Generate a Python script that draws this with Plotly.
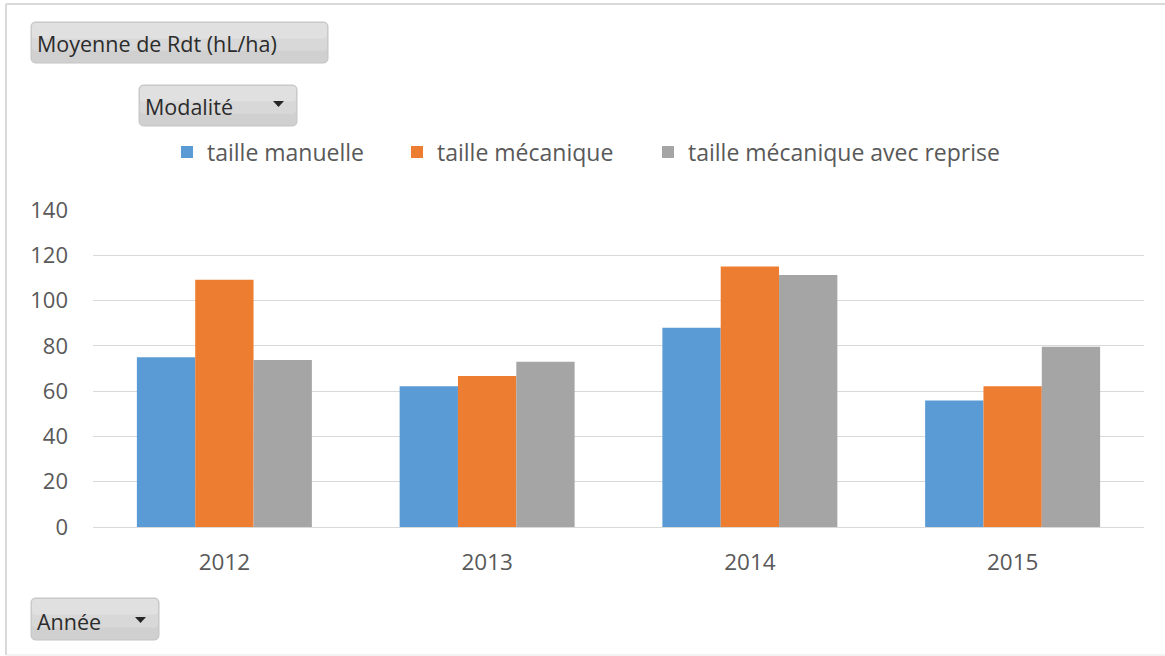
import plotly.graph_objects as go

# ---- data ----
years = ["2012", "2013", "2014", "2015"]
taille_manuelle = [75.0, 62.2, 88.0, 55.9]
taille_mecanique = [109.2, 66.7, 115.0, 62.2]
taille_meca_reprise = [73.8, 73.0, 111.3, 79.6]
series_names = ["taille manuelle", "taille mécanique", "taille mécanique avec reprise"]
y_ticks = [0, 20, 40, 60, 80, 100, 120, 140]

colors = ["#5B9BD5", "#ED7D31", "#A5A5A5"]
FONT = "Open Sans"
W, H = 1165, 656
ML, MR, MT, MB = 93, 21, 210, 129
PW, PH = W - ML - MR, H - MT - MB


def px(x):
    return (x - ML) / PW


def py(y):
    return (H - MB - y) / PH


legend_ids = ["legend", "legend2", "legend3"]
legend_left = [167, 397, 648]

fig = go.Figure()
for name, vals, c, lg in zip(series_names, [taille_manuelle, taille_mecanique, taille_meca_reprise], colors, legend_ids):
    fig.add_trace(go.Bar(x=years, y=vals, name=name, legend=lg, marker=dict(color=c, line=dict(width=0))))


def rounded(x0, y0, x1, y1, r):
    rx = r / PW
    ry = r / PH
    X0, X1 = px(x0), px(x1)
    Yt, Yb = py(y0), py(y1)
    return (f"M {X0+rx},{Yt} L {X1-rx},{Yt} Q {X1},{Yt} {X1},{Yt-ry} "
            f"L {X1},{Yb+ry} Q {X1},{Yb} {X1-rx},{Yb} L {X0+rx},{Yb} "
            f"Q {X0},{Yb} {X0},{Yb+ry} L {X0},{Yt-ry} Q {X0},{Yt} {X0+rx},{Yt} Z")


shapes = []
# outer frame: top, left, bottom (right edge is outside the picture)
frame = dict(type="line", xref="paper", yref="paper", line=dict(color="#d9d9d9", width=2), layer="below")
shapes.append(dict(frame, x0=px(6), x1=px(1165), y0=py(4), y1=py(4)))
shapes.append(dict(frame, x0=px(6), x1=px(6), y0=py(4), y1=py(655)))
shapes.append(dict(frame, x0=px(6), x1=px(1165), y0=py(655), y1=py(655), line=dict(color="#e6e6e6", width=1)))


def button(x0, y0, x1, y1):
    shapes.append(dict(type="path", xref="paper", yref="paper", path=rounded(x0, y0, x1, y1, 5),
                       fillcolor="#d0d0d0", line=dict(color="#c4c4c4", width=1)))
    h = y1 - y0
    shapes.append(dict(type="path", xref="paper", yref="paper", path=rounded(x0 + 1, y0 + 1, x1 - 1, y0 + h * 0.7, 4),
                       fillcolor="#d8d8d8", line=dict(width=0)))
    shapes.append(dict(type="path", xref="paper", yref="paper", path=rounded(x0 + 1, y0 + 1, x1 - 1, y0 + h * 0.4, 4),
                       fillcolor="#e0e0e0", line=dict(width=0)))


def triangle(cx, cy):
    p = f"M {px(cx-5.5)},{py(cy-3)} L {px(cx+5.5)},{py(cy-3)} L {px(cx)},{py(cy+3)} Z"
    shapes.append(dict(type="path", xref="paper", yref="paper", path=p, fillcolor="#262626", line=dict(width=0)))


button(31, 22, 328, 63)
button(139, 85, 297, 126)
triangle(278.5, 104)
button(31, 598, 159, 640)
triangle(140.5, 620)

annotations = [
    dict(text="Moyenne de Rdt (hL/ha)", x=px(35), y=py(44), xref="paper", yref="paper", xanchor="left",
         yanchor="middle", showarrow=False, font=dict(family=FONT, size=21.5, color="#2b2b2b")),
    dict(text="Modalité", x=px(143), y=py(106), xref="paper", yref="paper", xanchor="left",
         yanchor="middle", showarrow=False, font=dict(family=FONT, size=21.5, color="#2b2b2b")),
    dict(text="Année", x=px(35), y=py(621), xref="paper", yref="paper", xanchor="left",
         yanchor="middle", showarrow=False, font=dict(family=FONT, size=21.5, color="#2b2b2b")),
]

legend_common = dict(orientation="h", yanchor="middle", xanchor="left", y=py(152),
                     font=dict(family=FONT, size=23, color="#595959"), bgcolor="rgba(0,0,0,0)",
                     itemclick=False, itemdoubleclick=False)

fig.update_layout(
    width=W, height=H,
    margin=dict(l=ML, r=MR, t=MT, b=MB, autoexpand=False),
    paper_bgcolor="white", plot_bgcolor="white",
    barmode="group", bargap=0.334, bargroupgap=0,
    font=dict(family=FONT, color="#595959", size=22),
    showlegend=True,
    legend=dict(x=px(legend_left[0]), **legend_common),
    legend2=dict(x=px(legend_left[1]), **legend_common),
    legend3=dict(x=px(legend_left[2]), **legend_common),
    shapes=shapes,
    annotations=annotations,
    xaxis=dict(showgrid=False, showline=False, ticks="", tickfont=dict(size=22.5, color="#595959"),
               ticklabelstandoff=19),
    yaxis=dict(range=[0, 140], tickvals=y_ticks, showgrid=True, gridcolor="#d9d9d9", gridwidth=1,
               zeroline=True, zerolinecolor="#d9d9d9", zerolinewidth=1, showline=False, ticks="",
               tickfont=dict(size=22, color="#595959"), ticklabelstandoff=24),
)

fig.write_html("out.html", config={"displayModeBar": False},
               post_script="document.body.style.margin='0';")
